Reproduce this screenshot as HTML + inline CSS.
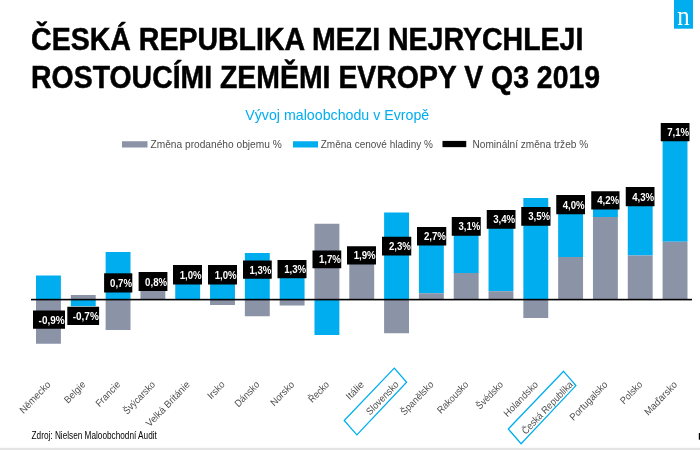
<!DOCTYPE html>
<html lang="cs"><head><meta charset="utf-8"><title>Vývoj maloobchodu v Evropě</title>
<style>
html,body{margin:0;padding:0;background:#fff;}
body{width:700px;height:450px;overflow:hidden;position:relative;font-family:"Liberation Sans",sans-serif;}
svg{position:absolute;left:0;top:0;display:block}
text{font-family:"Liberation Sans",sans-serif;}
.t{font-weight:bold;font-size:31.2px;fill:#000;stroke:#000;stroke-width:0.5px}
.sub{font-size:14.8px;fill:#00AEEF}
.lg{font-size:10.5px;fill:#4d4d4d}
.cat{font-size:10.1px;fill:#505050}
.dl{font-weight:bold;font-size:10.8px;fill:#fff}
.src{font-size:10.1px;fill:#000}
.logo{font-family:"Liberation Serif",serif;font-size:27px;fill:#fff}
</style></head><body>
<svg width="700" height="450" viewBox="0 0 700 450">
<rect x="0" y="0" width="700" height="450" fill="#fff"/>
<rect x="0" y="447.8" width="700" height="2.2" fill="#e4e4e4"/>
<rect x="674" y="0" width="19" height="28.7" fill="#00AEEF"/>
<text class="logo" id="logo" transform="translate(683.50,24.60) scale(0.9200,1)" text-anchor="middle">n</text>
<text class="t" id="t1" transform="translate(31.10,50.30) scale(0.9142,1)" text-anchor="start">ČESKÁ REPUBLIKA MEZI NEJRYCHLEJI</text>
<text class="t" id="t2" transform="translate(31.10,87.50) scale(0.9113,1)" text-anchor="start">ROSTOUCÍMI ZEMĚMI EVROPY V Q3 2019</text>
<text class="sub" id="sub" transform="translate(245.30,120.40) scale(0.9600,1)" text-anchor="start">Vývoj maloobchodu v Evropě</text>
<rect x="122" y="141.25" width="25.5" height="6.25" fill="#8B93A7"/>
<text class="lg" id="lg1" transform="translate(150.50,148.00) scale(0.9710,1)" text-anchor="start">Změna prodaného objemu %</text>
<rect x="293" y="141.25" width="25" height="6.25" fill="#00AEEF"/>
<text class="lg" id="lg2" transform="translate(320.75,148.00) scale(0.9520,1)" text-anchor="start">Změna cenové hladiny %</text>
<rect x="442.5" y="140.9" width="23.75" height="6.25" fill="#000"/>
<text class="lg" id="lg3" transform="translate(472.50,148.00) scale(0.9630,1)" text-anchor="start">Nominální změna tržeb %</text>
<rect x="36.00" y="275.50" width="24.90" height="24.00" fill="#00AEEF"/>
<rect x="36.00" y="299.50" width="24.90" height="44.25" fill="#8B93A7"/>
<rect x="70.81" y="295.00" width="24.90" height="4.50" fill="#8B93A7"/>
<rect x="70.81" y="299.50" width="24.90" height="6.75" fill="#00AEEF"/>
<rect x="105.62" y="252.00" width="24.90" height="47.50" fill="#00AEEF"/>
<rect x="105.62" y="299.50" width="24.90" height="30.50" fill="#8B93A7"/>
<rect x="140.43" y="285.00" width="24.90" height="14.50" fill="#8B93A7"/>
<rect x="175.24" y="275.90" width="24.90" height="23.60" fill="#00AEEF"/>
<rect x="210.05" y="270.40" width="24.90" height="29.10" fill="#00AEEF"/>
<rect x="210.05" y="299.50" width="24.90" height="5.50" fill="#8B93A7"/>
<rect x="244.86" y="253.00" width="24.90" height="46.50" fill="#00AEEF"/>
<rect x="244.86" y="299.50" width="24.90" height="16.75" fill="#8B93A7"/>
<rect x="279.67" y="263.00" width="24.90" height="36.50" fill="#00AEEF"/>
<rect x="279.67" y="299.50" width="24.90" height="6.00" fill="#8B93A7"/>
<rect x="314.48" y="223.75" width="24.90" height="75.75" fill="#8B93A7"/>
<rect x="314.48" y="299.50" width="24.90" height="35.50" fill="#00AEEF"/>
<rect x="349.29" y="254.70" width="24.90" height="44.80" fill="#8B93A7"/>
<rect x="384.10" y="212.50" width="24.90" height="87.00" fill="#00AEEF"/>
<rect x="384.10" y="299.50" width="24.90" height="33.75" fill="#8B93A7"/>
<rect x="418.91" y="235.80" width="24.90" height="57.45" fill="#00AEEF"/>
<rect x="418.91" y="293.25" width="24.90" height="6.25" fill="#8B93A7"/>
<rect x="453.72" y="226.30" width="24.90" height="46.70" fill="#00AEEF"/>
<rect x="453.72" y="273.00" width="24.90" height="26.50" fill="#8B93A7"/>
<rect x="488.53" y="219.30" width="24.90" height="71.95" fill="#00AEEF"/>
<rect x="488.53" y="291.25" width="24.90" height="8.25" fill="#8B93A7"/>
<rect x="523.34" y="198.00" width="24.90" height="101.50" fill="#00AEEF"/>
<rect x="523.34" y="299.50" width="24.90" height="18.50" fill="#8B93A7"/>
<rect x="558.15" y="205.00" width="24.90" height="52.00" fill="#00AEEF"/>
<rect x="558.15" y="257.00" width="24.90" height="42.50" fill="#8B93A7"/>
<rect x="592.96" y="200.40" width="24.90" height="16.60" fill="#00AEEF"/>
<rect x="592.96" y="217.00" width="24.90" height="82.50" fill="#8B93A7"/>
<rect x="627.77" y="198.00" width="24.90" height="57.50" fill="#00AEEF"/>
<rect x="627.77" y="255.50" width="24.90" height="44.00" fill="#8B93A7"/>
<rect x="662.58" y="132.00" width="24.90" height="109.75" fill="#00AEEF"/>
<rect x="662.58" y="241.75" width="24.90" height="57.75" fill="#8B93A7"/>
<rect x="31" y="298.8" width="661" height="1.6" fill="#000"/>
<rect x="33.00" y="310.50" width="32.00" height="18.25" fill="#000"/>
<text class="dl" transform="translate(64.70,323.73) scale(0.9250,1)" text-anchor="end">-0,9%</text>
<rect x="67.30" y="306.75" width="31.80" height="18.25" fill="#000"/>
<text class="dl" transform="translate(98.80,319.98) scale(0.9250,1)" text-anchor="end">-0,7%</text>
<rect x="104.10" y="273.30" width="28.20" height="19.20" fill="#000"/>
<text class="dl" transform="translate(132.00,287.00) scale(0.8940,1)" text-anchor="end">0,7%</text>
<rect x="138.60" y="272.00" width="28.80" height="19.00" fill="#000"/>
<text class="dl" transform="translate(167.10,285.60) scale(0.8940,1)" text-anchor="end">0,8%</text>
<rect x="173.00" y="265.00" width="29.00" height="19.50" fill="#000"/>
<text class="dl" transform="translate(201.70,278.85) scale(0.8940,1)" text-anchor="end">1,0%</text>
<rect x="208.00" y="265.00" width="29.00" height="19.50" fill="#000"/>
<text class="dl" transform="translate(236.70,278.85) scale(0.8940,1)" text-anchor="end">1,0%</text>
<rect x="243.00" y="260.50" width="28.75" height="18.25" fill="#000"/>
<text class="dl" transform="translate(271.45,273.73) scale(0.8940,1)" text-anchor="end">1,3%</text>
<rect x="277.50" y="260.00" width="29.00" height="18.25" fill="#000"/>
<text class="dl" transform="translate(306.20,273.23) scale(0.8940,1)" text-anchor="end">1,3%</text>
<rect x="312.50" y="250.50" width="28.75" height="17.75" fill="#000"/>
<text class="dl" transform="translate(340.95,263.48) scale(0.8940,1)" text-anchor="end">1,7%</text>
<rect x="347.00" y="246.25" width="29.00" height="18.25" fill="#000"/>
<text class="dl" transform="translate(375.70,259.48) scale(0.8940,1)" text-anchor="end">1,9%</text>
<rect x="382.00" y="236.75" width="29.25" height="18.75" fill="#000"/>
<text class="dl" transform="translate(410.95,250.22) scale(0.8940,1)" text-anchor="end">2,3%</text>
<rect x="417.00" y="227.00" width="29.25" height="18.50" fill="#000"/>
<text class="dl" transform="translate(445.95,240.35) scale(0.8940,1)" text-anchor="end">2,7%</text>
<rect x="451.75" y="217.00" width="29.00" height="18.75" fill="#000"/>
<text class="dl" transform="translate(480.45,230.47) scale(0.8940,1)" text-anchor="end">3,1%</text>
<rect x="486.75" y="210.00" width="28.75" height="18.75" fill="#000"/>
<text class="dl" transform="translate(515.20,223.47) scale(0.8940,1)" text-anchor="end">3,4%</text>
<rect x="521.25" y="207.00" width="29.25" height="18.75" fill="#000"/>
<text class="dl" transform="translate(550.20,220.47) scale(0.8940,1)" text-anchor="end">3,5%</text>
<rect x="556.25" y="195.00" width="28.75" height="19.25" fill="#000"/>
<text class="dl" transform="translate(584.70,208.72) scale(0.8940,1)" text-anchor="end">4,0%</text>
<rect x="591.25" y="191.25" width="28.25" height="18.25" fill="#000"/>
<text class="dl" transform="translate(619.20,204.47) scale(0.8940,1)" text-anchor="end">4,2%</text>
<rect x="625.75" y="187.00" width="28.75" height="19.25" fill="#000"/>
<text class="dl" transform="translate(654.20,200.72) scale(0.8940,1)" text-anchor="end">4,3%</text>
<rect x="660.75" y="123.00" width="28.75" height="18.25" fill="#000"/>
<text class="dl" transform="translate(689.20,136.22) scale(0.8940,1)" text-anchor="end">7,1%</text>
<text class="cat" id="c0" transform="translate(51.25,385.10) scale(0.957,1) rotate(-45) scale(0.9645,1)" text-anchor="end">Německo</text>
<text class="cat" id="c1" transform="translate(86.06,385.10) scale(0.957,1) rotate(-45) scale(0.9495,1)" text-anchor="end">Belgie</text>
<text class="cat" id="c2" transform="translate(120.87,385.10) scale(0.957,1) rotate(-45) scale(0.9431,1)" text-anchor="end">Francie</text>
<text class="cat" id="c3" transform="translate(155.68,385.10) scale(0.957,1) rotate(-45) scale(0.9068,1)" text-anchor="end">Švýcarsko</text>
<text class="cat" id="c4" transform="translate(190.49,385.10) scale(0.957,1) rotate(-45) scale(0.9731,1)" text-anchor="end">Velká Británie</text>
<text class="cat" id="c5" transform="translate(225.30,385.10) scale(0.957,1) rotate(-45) scale(0.9485,1)" text-anchor="end">Irsko</text>
<text class="cat" id="c6" transform="translate(260.11,385.10) scale(0.957,1) rotate(-45) scale(0.9335,1)" text-anchor="end">Dánsko</text>
<text class="cat" id="c7" transform="translate(294.92,385.10) scale(0.957,1) rotate(-45) scale(0.9602,1)" text-anchor="end">Norsko</text>
<text class="cat" id="c8" transform="translate(329.73,385.10) scale(0.957,1) rotate(-45) scale(0.9036,1)" text-anchor="end">Řecko</text>
<text class="cat" id="c9" transform="translate(364.54,385.10) scale(0.957,1) rotate(-45) scale(1.0180,1)" text-anchor="end">Itálie</text>
<text class="cat" id="c10" transform="translate(399.35,385.10) scale(0.957,1) rotate(-45) scale(0.9303,1)" text-anchor="end">Slovensko</text>
<text class="cat" id="c11" transform="translate(434.16,385.10) scale(0.957,1) rotate(-45) scale(0.9282,1)" text-anchor="end">Španělsko</text>
<text class="cat" id="c12" transform="translate(468.97,385.10) scale(0.957,1) rotate(-45) scale(0.9217,1)" text-anchor="end">Rakousko</text>
<text class="cat" id="c13" transform="translate(503.78,385.10) scale(0.957,1) rotate(-45) scale(0.9068,1)" text-anchor="end">Švédsko</text>
<text class="cat" id="c14" transform="translate(538.59,385.10) scale(0.957,1) rotate(-45) scale(0.9613,1)" text-anchor="end">Holandsko</text>
<text class="cat" id="c15" transform="translate(573.40,385.10) scale(0.957,1) rotate(-45) scale(0.9250,1)" text-anchor="end">Česká Republika</text>
<text class="cat" id="c16" transform="translate(608.21,385.10) scale(0.957,1) rotate(-45) scale(0.9581,1)" text-anchor="end">Portugalsko</text>
<text class="cat" id="c17" transform="translate(643.02,385.10) scale(0.957,1) rotate(-45) scale(0.9239,1)" text-anchor="end">Polsko</text>
<text class="cat" id="c18" transform="translate(677.83,385.10) scale(0.957,1) rotate(-45) scale(0.9741,1)" text-anchor="end">Maďarsko</text>
<polygon points="394.3,368.1 406.6,382.3 356.9,434.9 344.2,420.5" fill="none" stroke="#00AEEF" stroke-width="1.3"/>
<polygon points="563.6,371.3 575.9,385.6 521.1,443.7 508.3,429" fill="none" stroke="#00AEEF" stroke-width="1.3"/>
<text class="src" id="src" transform="translate(31.60,438.60) scale(0.8150,1)" text-anchor="start">Zdroj: Nielsen Maloobchodní Audit</text>
<rect x="698.8" y="433" width="1.2" height="6.7" fill="#000"/>
</svg></body></html>
